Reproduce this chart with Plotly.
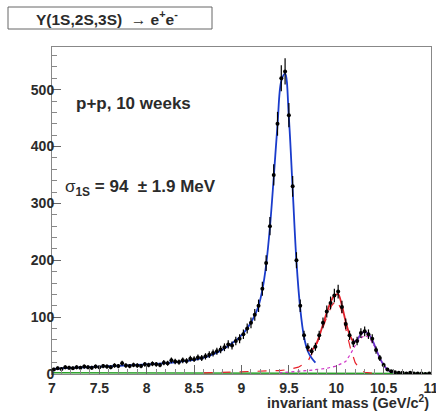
import numpy as np
import plotly.graph_objects as go

# ---- data ----
mass = [7.02, 7.06, 7.10, 7.14, 7.18, 7.22, 7.26, 7.30, 7.34, 7.38,
        7.42, 7.46, 7.50, 7.54, 7.58, 7.62, 7.66, 7.70, 7.74, 7.78,
        7.82, 7.86, 7.90, 7.94, 7.98, 8.02, 8.06, 8.10, 8.14, 8.18,
        8.22, 8.26, 8.30, 8.34, 8.38, 8.42, 8.46, 8.50, 8.54, 8.58,
        8.62, 8.66, 8.70, 8.74, 8.78, 8.82, 8.86, 8.90, 8.94, 8.98,
        9.02, 9.06, 9.10, 9.14, 9.18, 9.22, 9.26, 9.30, 9.34, 9.38,
        9.42, 9.46, 9.50, 9.54, 9.58, 9.62, 9.66, 9.70, 9.74, 9.78,
        9.82, 9.86, 9.90, 9.94, 9.98, 10.02, 10.06, 10.10, 10.14, 10.18,
        10.22, 10.26, 10.30, 10.34, 10.38, 10.42, 10.46, 10.50, 10.54, 10.58,
        10.62, 10.66, 10.70, 10.74, 10.78, 10.82, 10.86, 10.90, 10.94, 10.98]
counts = [8, 10, 9, 12, 11, 10, 12, 11, 13, 12,
          11, 13, 12, 14, 13, 12, 15, 14, 19, 15,
          14, 16, 15, 14, 17, 16, 18, 17, 16, 20,
          19, 24, 22, 21, 24, 23, 27, 26, 29, 28,
          31, 34, 37, 40, 43, 47, 52, 50, 58, 62,
          70, 80, 90, 104, 120, 150, 195, 260, 350, 440,
          520, 532, 455, 330, 200, 120, 68, 47, 40, 48,
          68, 90, 110, 125, 138, 145, 118, 88, 68, 55,
          58, 72, 75, 70, 62, 42, 28, 16, 8, 5,
          3, 2, 2, 1, 2, 1, 1, 1, 0, 1]

fit1s_x = [7.02, 7.10, 7.20, 7.30, 7.40, 7.50, 7.60, 7.70, 7.80, 7.90,
           8.00, 8.10, 8.20, 8.30, 8.40, 8.50, 8.58, 8.66, 8.74, 8.82,
           8.90, 8.98, 9.06, 9.14, 9.18, 9.22, 9.26, 9.30, 9.34, 9.38,
           9.42, 9.46, 9.50, 9.54, 9.58, 9.62, 9.66, 9.70, 9.74, 9.78]
fit1s_y = [9, 10, 10.8, 11.5, 12.2, 12.9, 13.6, 14.4, 15.1, 15.9,
           16.8, 17.8, 19.1, 20.7, 22.6, 25, 28, 32, 37.5, 45,
           54, 65, 80, 103, 120, 148, 192, 258, 345, 438,
           515, 528, 450, 325, 198, 115, 65, 40, 28, 20]

fit2s_x = [9.70, 9.74, 9.78, 9.82, 9.86, 9.90, 9.94, 9.98, 10.02, 10.06, 10.10, 10.14, 10.18, 10.22]
fit2s_y = [42, 42, 50, 66, 87, 108, 126, 138, 140, 120, 92, 70, 58, 58]

fit3s_x = [10.18, 10.22, 10.26, 10.30, 10.34, 10.38, 10.42, 10.46, 10.50, 10.54, 10.58, 10.62]
fit3s_y = [56, 60, 70, 74, 70, 60, 44, 28, 16, 8, 4, 2]

comp2s_x = [8.6, 8.8, 9.0, 9.2, 9.4, 9.5, 9.6, 9.7, 9.8, 9.9, 9.95, 10.0, 10.05, 10.1, 10.15, 10.2, 10.25, 10.3, 10.4]
comp2s_y = [2, 3, 4, 5, 6, 8, 12, 22, 55, 100, 120, 130, 115, 80, 45, 20, 8, 3, 1]

comp3s_x = [9.4, 9.6, 9.7, 9.8, 9.9, 10.0, 10.1, 10.15, 10.2, 10.25, 10.3, 10.35, 10.4, 10.45, 10.5, 10.55, 10.6]
comp3s_y = [2, 4, 6, 8, 10, 14, 22, 35, 50, 62, 68, 64, 50, 30, 15, 6, 2]

bkg_x = [7.0, 8.0, 9.0, 10.0, 11.0]
bkg_y = [2, 2, 1.5, 1, 1]

x_ticks = [7, 7.5, 8, 8.5, 9, 9.5, 10, 10.5, 11]
x_ticklabels = ["7", "7.5", "8", "8.5", "9", "9.5", "10", "10.5", "11"]
y_ticks = [0, 100, 200, 300, 400, 500]

errors = [float(np.sqrt(c)) for c in counts]

FONT = "Liberation Sans, Arial, sans-serif"
TXT = "#2b2b2b"

fig = go.Figure()
fig.add_trace(go.Scatter(x=bkg_x, y=bkg_y, mode="lines",
                         line=dict(color="#2aa02a", width=1.5)))
fig.add_trace(go.Scatter(x=comp2s_x, y=comp2s_y, mode="lines",
                         line=dict(color="#e8202a", width=1.2, dash="dash")))
fig.add_trace(go.Scatter(x=comp3s_x, y=comp3s_y, mode="lines",
                         line=dict(color="#d030c8", width=1.2, dash="dot")))
fig.add_trace(go.Scatter(x=fit1s_x, y=fit1s_y, mode="lines",
                         line=dict(color="#1a3ccc", width=1.8, shape="spline")))
fig.add_trace(go.Scatter(x=fit2s_x, y=fit2s_y, mode="lines",
                         line=dict(color="#e0202a", width=1.8, shape="spline")))
fig.add_trace(go.Scatter(x=fit3s_x, y=fit3s_y, mode="lines",
                         line=dict(color="#6a30c8", width=1.8, shape="spline")))
fig.add_trace(go.Scatter(x=mass, y=counts, mode="markers",
                         marker=dict(color="black", size=4),
                         error_y=dict(type="data", array=errors, color="black",
                                      thickness=1.2, width=0)))

L, R, T, B = 52, 431, 47, 374
W, H = 436, 412


def px(xp):
    return (xp - L) / (R - L)


def py(yp):
    return (B - yp) / (B - T)


fig.update_layout(
    width=W, height=H,
    margin=dict(l=L, r=W - R, t=T, b=H - B, autoexpand=False),
    plot_bgcolor="white", paper_bgcolor="white",
    showlegend=False,
    font=dict(family=FONT, color=TXT),
    xaxis=dict(range=[7, 11], tickvals=x_ticks, ticktext=x_ticklabels,
               showgrid=False, zeroline=False, showline=True, mirror=True,
               linecolor="#888888", linewidth=1, automargin=False,
               ticks="inside", ticklen=9, tickcolor="#666666",
               ticklabeloverflow="allow", ticklabelstandoff=1,
               minor=dict(dtick=0.1, ticks="inside", ticklen=5, tickcolor="#888888"),
               tickfont=dict(family=FONT, size=14, color=TXT, weight="bold")),
    yaxis=dict(range=[0, 575], tickvals=y_ticks,
               showgrid=False, zeroline=False, showline=True, mirror=True,
               linecolor="#888888", linewidth=1, automargin=False,
               ticks="inside", ticklen=9, tickcolor="#666666",
               ticklabelstandoff=-6, ticklabeloverflow="allow",
               minor=dict(dtick=20, ticks="inside", ticklen=5, tickcolor="#888888"),
               tickfont=dict(family=FONT, size=14, color=TXT, weight="bold")),
)

fig.add_shape(type="rect", xref="paper", yref="paper",
              x0=px(8), x1=px(212), y0=py(29), y1=py(7),
              line=dict(color="#666666", width=1), fillcolor="white")
fig.add_annotation(xref="paper", yref="paper", x=px(107), y=py(18),
                   xanchor="center", yanchor="middle",
                   text="<b>Υ(1S,2S,3S)  → e<sup>+</sup>e<sup>-</sup></b>",
                   showarrow=False, font=dict(size=15.5, color=TXT))
fig.add_annotation(xref="paper", yref="paper", x=px(74), y=py(103),
                   xanchor="left", yanchor="middle", text="<b>p+p, 10 weeks</b>",
                   showarrow=False, font=dict(size=17, color=TXT))
fig.add_annotation(xref="paper", yref="paper", x=px(63), y=py(188),
                   xanchor="left", yanchor="middle",
                   text="σ<sub><b>1S</b></sub><b> = 94  ± 1.9 MeV</b>",
                   showarrow=False, font=dict(size=17, color=TXT))
fig.add_annotation(xref="paper", yref="paper", x=1.0, y=py(402),
                   xanchor="right", yanchor="middle",
                   text="<b>invariant mass (GeV/c<sup>2</sup>)</b>",
                   showarrow=False, font=dict(size=14.5, color=TXT))

fig.write_html("out.html", config={"displayModeBar": False},
               post_script="document.body.style.margin='0';document.body.style.overflow='hidden';")
